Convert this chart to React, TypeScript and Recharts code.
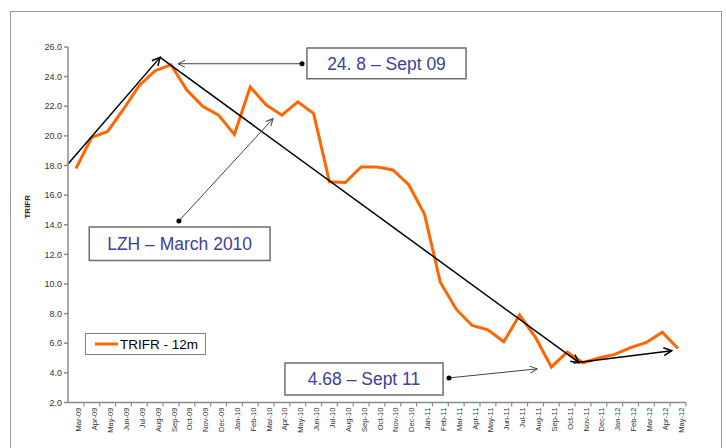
import React from 'react';
import {
  LineChart,
  Line,
  XAxis,
  YAxis,
  Legend,
  ReferenceLine,
  ReferenceArea,
  ReferenceDot,
} from 'recharts';

const months = [
  'Mar-09', 'Apr-09', 'May-09', 'Jun-09', 'Jul-09', 'Aug-09', 'Sep-09', 'Oct-09', 'Nov-09', 'Dec-09',
  'Jan-10', 'Feb-10', 'Mar-10', 'Apr-10', 'May-10', 'Jun-10', 'Jul-10', 'Aug-10', 'Sep-10', 'Oct-10',
  'Nov-10', 'Dec-10', 'Jan-11', 'Feb-11', 'Mar-11', 'Apr-11', 'May-11', 'Jun-11', 'Jul-11', 'Aug-11',
  'Sep-11', 'Oct-11', 'Nov-11', 'Dec-11', 'Jan-12', 'Feb-12', 'Mar-12', 'Apr-12', 'May-12',
];

const trifr = [
  17.8, 19.9, 20.3, 21.8, 23.4, 24.4, 24.8, 23.1, 22.0, 21.4,
  20.1, 23.3, 22.1, 21.4, 22.3, 21.5, 16.9, 16.85, 17.9, 17.9,
  17.7, 16.7, 14.7, 10.1, 8.3, 7.2, 6.9, 6.1, 7.9, 6.4,
  4.4, 5.4, 4.68, 5.0, 5.25, 5.7, 6.05, 6.75, 5.65,
];

const yTicks = [2, 4, 6, 8, 10, 12, 14, 16, 18, 20, 22, 24, 26];

// trend arrows drawn over the series (x = month index, y = TRIFR)
const trendUp = [{ x: -0.5, y: 18.1 }, { x: 5.31, y: 25.3 }];
const trendDown = [{ x: 5.31, y: 25.3 }, { x: 31.75, y: 4.69 }];
const trendEnd = [{ x: 31.4, y: 4.67 }, { x: 37.6, y: 5.5 }];

// callout boxes and their pointers
const callouts = [
  { text: '24. 8 \u2013 Sept 09', x1: 14.58, x2: 24.62, y1: 23.85, y2: 25.93, from: { x: 14.27, y: 24.87 }, to: { x: 6.44, y: 24.87 } },
  { text: 'LZH \u2013 March 2010', x1: 0.84, x2: 12.25, y1: 11.58, y2: 13.84, from: { x: 6.5, y: 14.26 }, to: { x: 12.44, y: 21.16 } },
  { text: '4.68 \u2013 Sept 11', x1: 13.19, x2: 23.17, y1: 2.51, y2: 4.67, from: { x: 23.54, y: 3.66 }, to: { x: 29.1, y: 4.27 } },
];

const data = months.map((m, i) => ({ i, month: m, trifr: trifr[i] }));
const xTicks = months.map((_, i) => i);

const FONT = 'Arial, "Liberation Sans", sans-serif';
const ORANGE = '#ff6600';
const AXIS = '#8c8c8c';
const HALF = 7.92;

const MonthTick = (props: any) => {
  const { x, y, payload } = props;
  return (
    <g>
      <line x1={x + HALF} y1={y} x2={x + HALF} y2={y + 4} stroke={AXIS} strokeWidth={1.2} />
      <text
        x={x + 3}
        y={y + 5}
        transform={`rotate(-90 ${x + 3} ${y + 5})`}
        textAnchor="end"
        dominantBaseline="central"
        fontSize={7.6}
        fill="#333"
      >
        {months[payload.value]}
      </text>
    </g>
  );
};

const arrowLine = (marker: string, stroke: string, width: number) => (p: any) => (
  <line x1={p.x1} y1={p.y1} x2={p.x2} y2={p.y2} stroke={stroke} strokeWidth={width} markerEnd={`url(#${marker})`} />
);

const LegendBox = (props: any) => {
  const item = props.payload && props.payload[0];
  return (
    <div
      style={{
        boxSizing: 'border-box',
        width: 121,
        height: 22,
        border: '1.5px solid #808080',
        background: '#fff',
        display: 'flex',
        alignItems: 'center',
        paddingLeft: 9,
        fontFamily: FONT,
        fontSize: 13.5,
        color: '#000',
      }}
    >
      <svg width={23} height={6} style={{ marginRight: 2 }}>
        <line x1={0} y1={3} x2={23} y2={3} stroke={ORANGE} strokeWidth={3} />
      </svg>
      <span>{item ? item.value : ''}</span>
    </div>
  );
};

export default function App() {
  return (
    <div style={{ position: 'absolute', left: 0, top: 0, width: 726, height: 448, background: '#fff', overflow: 'hidden', fontFamily: FONT }}>
      <svg width={0} height={0} style={{ position: 'absolute' }}>
        <defs>
          <marker id="arrowBlack" markerUnits="userSpaceOnUse" markerWidth={12} markerHeight={12} refX={10} refY={6} orient="auto">
            <path d="M2,2 L10,6 L2,10" fill="none" stroke="#000" strokeWidth={1.5} />
          </marker>
          <marker id="arrowGray" markerUnits="userSpaceOnUse" markerWidth={12} markerHeight={12} refX={10} refY={6} orient="auto">
            <path d="M3,2.5 L10,6 L3,9.5" fill="none" stroke="#444" strokeWidth={1} />
          </marker>
        </defs>
      </svg>
      <div
        style={{
          position: 'absolute',
          left: 10,
          top: 11,
          width: 712,
          height: 460,
          boxSizing: 'border-box',
          border: '1.5px solid #9a9a9a',
        }}
      />
      <div style={{ position: 'absolute', left: 0, top: 0 }}>
        <LineChart width={726} height={448} data={data} margin={{ top: 47, right: 40, bottom: 0, left: 0 }}>
          <XAxis
            type="number"
            dataKey="i"
            domain={[-0.5, 38.5]}
            ticks={xTicks}
            interval={0}
            height={45.5}
            stroke={AXIS}
            strokeWidth={1.5}
            tickLine={false}
            tickSize={0}
            tickMargin={0}
            tick={<MonthTick />}
          />
          <YAxis
            domain={[2, 26]}
            ticks={yTicks}
            width={68}
            stroke={AXIS}
            strokeWidth={1.5}
            tickSize={4}
            tickMargin={2}
            tick={{ fill: '#333', fontSize: 9 }}
            tickFormatter={(v: number) => v.toFixed(1)}
            label={{ value: 'TRIFR', angle: -90, position: 'center', dx: -7, dy: -18, fontSize: 8, fontWeight: 'bold', fill: '#222' }}
          />
          <Legend
            layout="vertical"
            verticalAlign="middle"
            align="center"
            wrapperStyle={{ left: 85, top: 333, width: 121, height: 22 }}
            content={<LegendBox />}
          />
          {callouts.map((c) => (
            <ReferenceArea
              key={c.text}
              x1={c.x1}
              x2={c.x2}
              y1={c.y1}
              y2={c.y2}
              ifOverflow="visible"
              fill="#fff"
              fillOpacity={1}
              stroke="#6e6e6e"
              strokeWidth={1.5}
              label={{ value: c.text, position: 'center', fill: '#40409a', fontSize: 17.5, fontFamily: FONT }}
            />
          ))}
          <Line
            type="linear"
            dataKey="trifr"
            name="TRIFR - 12m"
            stroke={ORANGE}
            strokeWidth={3}
            dot={false}
            activeDot={false}
            isAnimationActive={false}
          />
          <ReferenceLine segment={trendUp} ifOverflow="visible" shape={arrowLine('arrowBlack', '#000', 1.5)} />
          <ReferenceLine segment={trendDown} ifOverflow="visible" shape={arrowLine('arrowBlack', '#000', 1.5)} />
          <ReferenceLine segment={trendEnd} ifOverflow="visible" shape={arrowLine('arrowBlack', '#000', 1.5)} />
          {callouts.map((c) => (
            <ReferenceLine
              key={c.text + '-ptr'}
              segment={[c.from, c.to]}
              ifOverflow="visible"
              shape={arrowLine('arrowGray', '#444', 1)}
            />
          ))}
          {callouts.map((c) => (
            <ReferenceDot key={c.text + '-dot'} x={c.from.x} y={c.from.y} r={2.5} fill="#000" stroke="none" ifOverflow="visible" />
          ))}
        </LineChart>
      </div>
    </div>
  );
}
